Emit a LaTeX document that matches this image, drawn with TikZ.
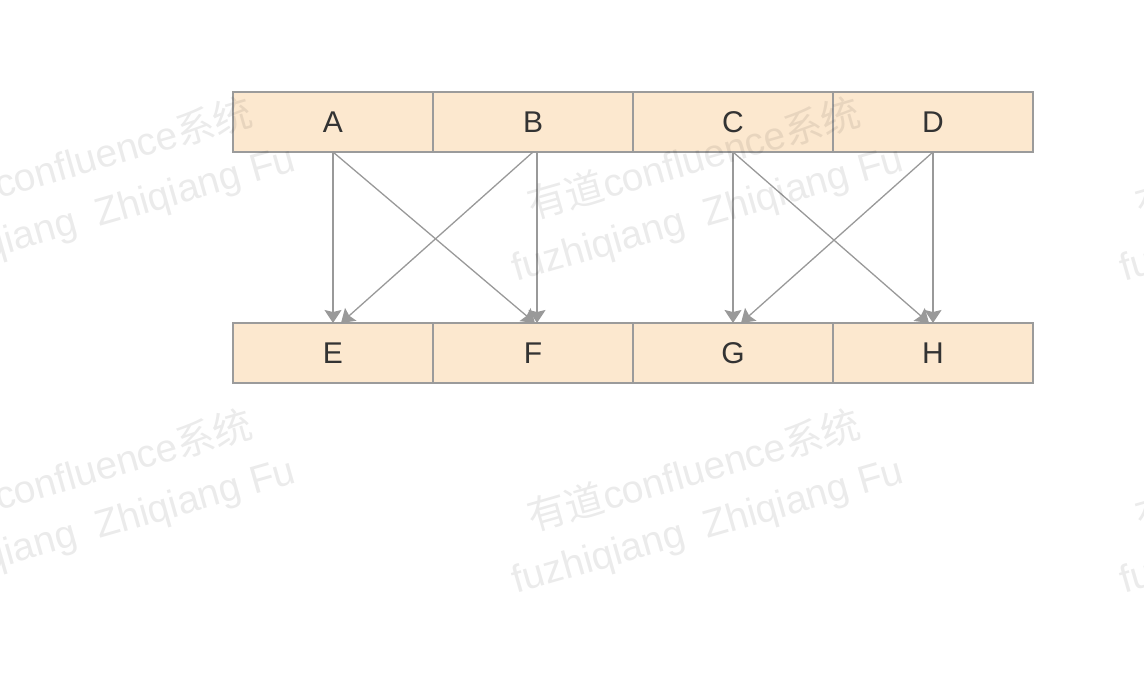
\documentclass[tikz,border=0pt]{standalone}
\usepackage{fontspec}
\setmainfont{Liberation Sans}
\newfontfamily\cjk{Noto Sans CJK SC}
\usetikzlibrary{arrows.meta,positioning}
\definecolor{cellfill}{HTML}{FCE8CF}
\definecolor{cellline}{HTML}{9B9B9B}
\definecolor{linkgray}{HTML}{999999}
\definecolor{labelgray}{HTML}{333333}

\begin{document}
\begin{tikzpicture}[x=1pt,y=-1pt,
		cell/.style={draw=cellline,fill=cellfill,line width=1.3pt,outer sep=0pt,inner sep=0pt,
			minimum width=200pt,minimum height=60pt,text=labelgray,font=\fontsize{30}{32}\selectfont},
		link/.style={draw=linkgray,line width=1.3pt,-{Stealth[length=13pt,width=17pt,inset=2pt]}},
		wmark/.style={anchor=base west,rotate=16,inner sep=0pt,text=black,opacity=0.08,
			font=\fontsize{39}{41}\selectfont}]
		\useasboundingbox (0,0) rectangle (1144,686);
		
		%upper row
		\node[cell] (A) at (333,122) {\raisebox{-3pt}{A}};
		\node[cell,right=0pt of A] (B) {\raisebox{-3pt}{B}};
		\node[cell,right=0pt of B] (C) {\raisebox{-3pt}{C}};
		\node[cell,right=0pt of C] (D) {\raisebox{-3pt}{D}};
		
		%lower row
		\node[cell,below=171pt of A] (E) {\raisebox{-3pt}{E}};
		\node[cell,right=0pt of E] (F) {\raisebox{-3pt}{F}};
		\node[cell,right=0pt of F] (G) {\raisebox{-3pt}{G}};
		\node[cell,right=0pt of G] (H) {\raisebox{-3pt}{H}};
		
		%left links
		\draw[link] (A.south) -- (E.north);
		\draw[link] (A.south) -- ([xshift=2pt]F.north);
		\draw[link] (B.south) -- ([xshift=8pt]E.north);
		\draw[link] ([xshift=4pt]B.south) -- ([xshift=4pt]F.north);
		
		%right links
		\draw[link] (C.south) -- (G.north);
		\draw[link] (C.south) -- ([xshift=-4pt]H.north);
		\draw[link] (D.south) -- ([xshift=8pt]G.north);
		\draw[link] (D.south) -- (H.north);
		
		%watermark
		\begin{scope}
			\clip (0,0) rectangle (1144,686);
			\foreach \dx in {-608,0,608}
			\foreach \dy in {0,312}{
				\node[wmark] (wa) at (532+\dx,220+\dy) {{\cjk 有道}confluence{\cjk 系统}};
				\node[wmark] (wb) at (516+\dx,282+\dy) {fuzhiqiang\ \ Zhiqiang Fu};
			}
		\end{scope}
		
\end{tikzpicture}
\end{document}
